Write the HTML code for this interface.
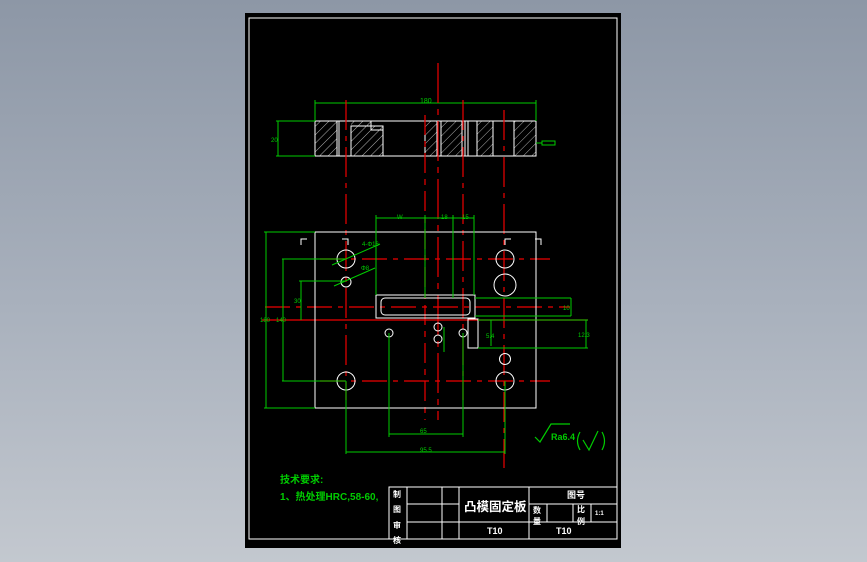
<!DOCTYPE html>
<html><head><meta charset="utf-8"><style>
html,body{margin:0;padding:0}
body{width:867px;height:562px;overflow:hidden;background:linear-gradient(180deg,#8d97a6 0%,#a9b1bd 55%,#c3c8cf 100%);}
svg{position:absolute;left:0;top:0}
text{font-family:"Liberation Sans","Noto Sans CJK SC",sans-serif}
</style></head><body>
<svg width="867" height="562" viewBox="0 0 867 562">
<defs>
<pattern id="h" width="6" height="6" patternUnits="userSpaceOnUse" patternTransform="rotate(45)">
<line x1="0" y1="0" x2="0" y2="6" stroke="#fff" stroke-width="0.7"/></pattern>
</defs>
<rect x="245" y="13" width="376" height="535" fill="#000"/>
<rect x="249" y="18" width="368" height="521" fill="none" stroke="#fff" stroke-width="1"/>

<g stroke="#fff" stroke-width="1">
<rect x="315" y="121" width="22" height="35" fill="url(#h)"/>
<rect x="351" y="126" width="32" height="30" fill="url(#h)"/>
<rect x="351" y="121" width="20" height="5" fill="url(#h)" stroke="none"/>
<rect x="425" y="121" width="12" height="35" fill="url(#h)"/>
<rect x="441" y="121" width="21" height="35" fill="url(#h)"/>
<rect x="477" y="121" width="16" height="35" fill="url(#h)"/>
<rect x="514" y="121" width="22" height="35" fill="url(#h)"/>
<rect x="315" y="121" width="221" height="35" fill="none"/>
<polyline points="371,121 371,130 383,130" fill="none"/>
<line x1="465" y1="121" x2="465" y2="156"/><line x1="468" y1="121" x2="468" y2="156"/>
<line x1="339" y1="121" x2="339" y2="156"/><line x1="493" y1="121" x2="493" y2="156"/>
</g>
<g stroke="#0c0" stroke-width="1" fill="none">
<line x1="315" y1="103" x2="536" y2="103"/><line x1="315" y1="100" x2="315" y2="121"/><line x1="536" y1="100" x2="536" y2="121"/>
<line x1="276" y1="121" x2="315" y2="121"/><line x1="276" y1="156" x2="315" y2="156"/><line x1="278" y1="121" x2="278" y2="156"/>
<line x1="536" y1="143" x2="542" y2="143"/><rect x="542" y="141" width="13" height="4"/>
</g>
<text x="420" y="103" fill="#0c0" font-size="7">180</text>
<text x="271" y="142" fill="#0c0" font-size="6">20</text>

<g stroke="#e00" stroke-width="1.2" fill="none">
<line x1="438" y1="63" x2="438" y2="420" stroke-dasharray="40,6,6,6"/>
<line x1="346" y1="100" x2="346" y2="400" stroke-dasharray="30,6,5,6"/>
<line x1="463" y1="100" x2="463" y2="400" stroke-dasharray="30,6,5,6"/>
<line x1="504" y1="110" x2="504" y2="468" stroke-dasharray="30,6,5,6"/>
<line x1="425" y1="115" x2="425" y2="420" stroke-dasharray="20,6,6,6"/>
<line x1="320" y1="259" x2="550" y2="259" stroke-dasharray="25,6,5,6"/>
<line x1="320" y1="381" x2="550" y2="381" stroke-dasharray="25,6,5,6"/>
<line x1="265" y1="307" x2="570" y2="307" stroke-dasharray="25,6,5,6"/>
<line x1="262" y1="320" x2="588" y2="320"/>
</g>

<g stroke="#fff" stroke-width="1" fill="none">
<rect x="315" y="232" width="221" height="176"/>
<polyline points="301,245 301,239 307,239"/><polyline points="348,245 348,239 342,239"/>
<polyline points="505,245 505,239 511,239"/><polyline points="541,245 541,239 535,239"/>
<circle cx="346" cy="259" r="9"/><circle cx="346" cy="282" r="5"/><circle cx="346" cy="381" r="9"/>
<circle cx="505" cy="259" r="9"/><circle cx="505" cy="285" r="11"/><circle cx="505" cy="381" r="9"/><circle cx="505" cy="359" r="5.5"/>
<circle cx="389" cy="333" r="4"/><circle cx="438" cy="327" r="4"/><circle cx="438" cy="339" r="4"/><circle cx="463" cy="333" r="4"/>
<rect x="376" y="295" width="99" height="23"/>
<rect x="381" y="298" width="89" height="17" rx="4"/>
<rect x="468" y="319" width="10" height="29"/>
</g>
<g stroke="#0c0" stroke-width="1" fill="none">
<line x1="376" y1="215" x2="376" y2="295"/><line x1="425" y1="215" x2="425" y2="298"/>
<line x1="453" y1="215" x2="453" y2="298"/><line x1="474" y1="215" x2="474" y2="295"/>
<line x1="376" y1="218" x2="474" y2="218"/>
<line x1="264" y1="232" x2="315" y2="232"/><line x1="264" y1="408" x2="315" y2="408"/><line x1="266" y1="232" x2="266" y2="408"/>
<line x1="282" y1="259" x2="346" y2="259"/><line x1="282" y1="381" x2="346" y2="381"/><line x1="283" y1="259" x2="283" y2="381"/>
<line x1="299" y1="281" x2="346" y2="281"/><line x1="301" y1="281" x2="301" y2="320"/>
<line x1="332" y1="265" x2="380" y2="244"/><line x1="334" y1="286" x2="375" y2="268"/>
<line x1="475" y1="298" x2="571" y2="298"/><line x1="475" y1="316" x2="571" y2="316"/><line x1="571" y1="298" x2="571" y2="316"/>
<line x1="478" y1="320" x2="588" y2="320"/><line x1="478" y1="348" x2="588" y2="348"/><line x1="586" y1="320" x2="586" y2="348"/>
<line x1="491" y1="320" x2="491" y2="346"/>
<line x1="389" y1="333" x2="389" y2="437"/><line x1="463" y1="333" x2="463" y2="437"/><line x1="389" y1="434" x2="463" y2="434"/>
<line x1="346" y1="381" x2="346" y2="454"/><line x1="505" y1="381" x2="505" y2="454"/><line x1="346" y1="452" x2="505" y2="452"/>
<line x1="444" y1="327" x2="444" y2="352"/>
</g>
<g fill="#0c0" font-size="6">
<text x="397" y="219">W</text><text x="441" y="219">18</text><text x="462" y="219">15</text>
<text x="260" y="322">180</text><text x="276" y="322">140</text><text x="294" y="303">30</text>
<text x="362" y="246">4-Φ16</text><text x="361" y="270">Φ8</text>
<text x="563" y="310">10</text><text x="578" y="337">12.3</text><text x="486" y="338">5.4</text>
<text x="420" y="433">65</text><text x="420" y="452">95.5</text>
</g>
<g stroke="#0c0" stroke-width="1.2" fill="none">
<polyline points="535,437 540,442 551,424 570,424"/>
<path d="M580,432 Q575,441 580,450 M583,440 L589,450 L598,431 M602,432 Q607,441 602,450"/>
</g>
<text x="551" y="440" fill="#0c0" font-size="9" font-weight="bold">Ra6.4</text>

<text x="280" y="483" fill="#0c0" font-size="10" font-weight="bold">技术要求:</text>
<text x="280" y="500" fill="#0c0" font-size="10" font-weight="bold">1、热处理HRC,58-60,</text>

<g stroke="#fff" stroke-width="1" fill="none">
<rect x="389" y="487" width="228" height="52"/>
<line x1="407" y1="487" x2="407" y2="539"/><line x1="442" y1="487" x2="442" y2="539"/><line x1="459" y1="487" x2="459" y2="539"/><line x1="529" y1="487" x2="529" y2="539"/>
<line x1="407" y1="504" x2="459" y2="504"/><line x1="407" y1="522" x2="617" y2="522"/>
<line x1="529" y1="504" x2="617" y2="504"/>
<line x1="547" y1="504" x2="547" y2="522"/><line x1="573" y1="504" x2="573" y2="522"/><line x1="591" y1="504" x2="591" y2="522"/>
</g>
<g fill="#fff" font-weight="bold">
<text x="393" y="497" font-size="8">制</text><text x="393" y="512" font-size="8">图</text><text x="393" y="528" font-size="8">审</text><text x="393" y="543" font-size="8">核</text>
<text x="464" y="511" font-size="12.5">凸模固定板</text>
<text x="567" y="498" font-size="9">图号</text>
<text x="533" y="513" font-size="8">数</text><text x="533" y="524" font-size="8">量</text>
<text x="577" y="512" font-size="8">比</text><text x="577" y="524" font-size="8">例</text>
<text x="595" y="515" font-size="6">1:1</text>
<text x="487" y="534" font-size="9">T10</text><text x="556" y="534" font-size="9">T10</text>
</g>
</svg>
</body></html>
